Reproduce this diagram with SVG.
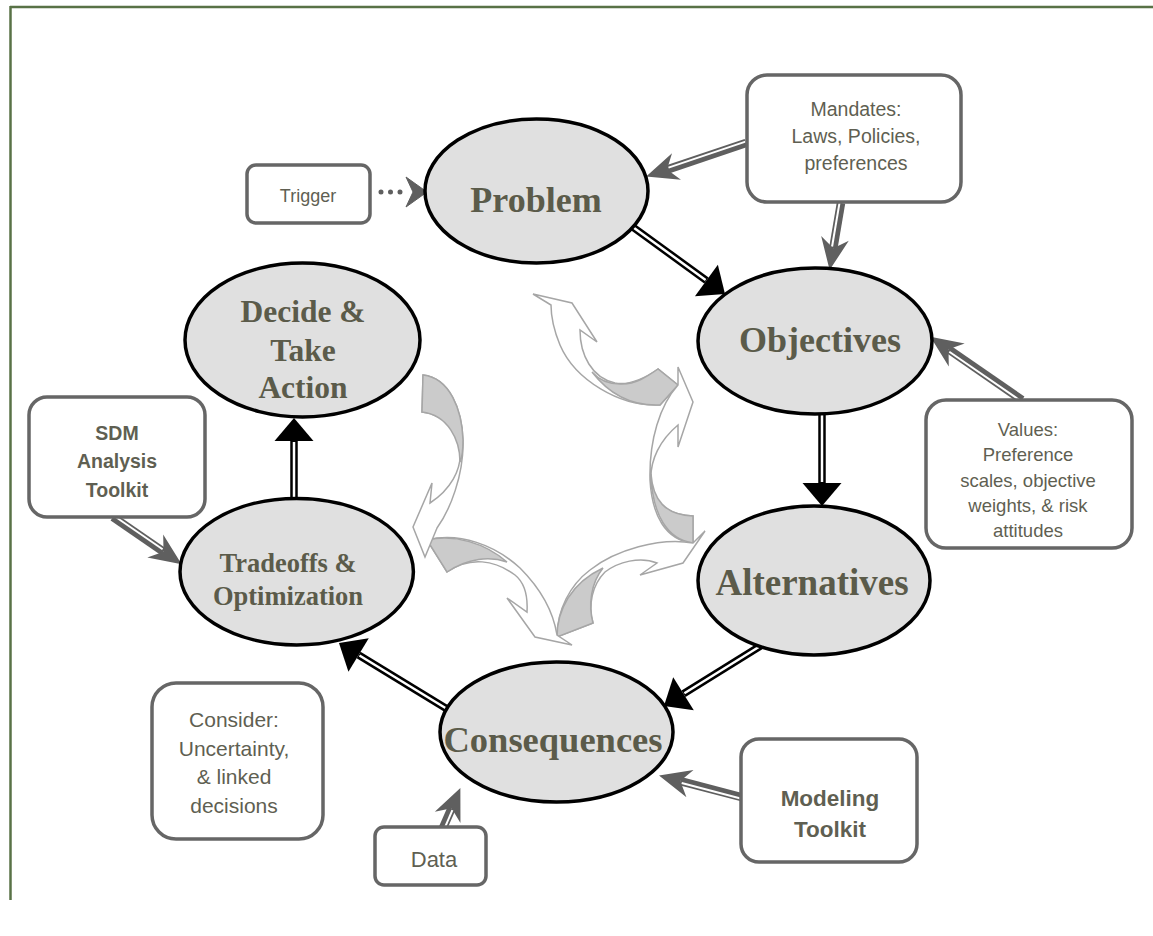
<svg xmlns="http://www.w3.org/2000/svg" width="1153" height="936" viewBox="0 0 1153 936">
<style>
.frame{stroke:#587246;stroke-width:2.5;fill:none}
.node ellipse{fill:#e0e0e0;stroke:#000;stroke-width:3.5}
.node text{font-family:"Liberation Serif","Times New Roman",serif;font-weight:bold;fill:#5b5b4a;text-anchor:middle}
.box rect{fill:#fff;stroke:#666;stroke-width:3.5}
.box text{font-family:"Liberation Sans",Arial,sans-serif;fill:#5f5f52;text-anchor:middle}
.box text.b{font-weight:bold}
.blk{stroke:#000;stroke-width:7.5;fill:none}
.wht{stroke:#fff;stroke-width:2.5;fill:none}
.gry{stroke:#5f5f5f;stroke-width:8.5;fill:none}
.gw{stroke:#fff;stroke-width:2;fill:none}
.cyc{stroke:#a6a6a6;stroke-width:1.5;fill:#fff;stroke-linejoin:miter}
.cyc-s{stroke:#a6a6a6;stroke-width:1.5;fill:#cbcbcb}
</style>
<defs>
<marker id="tri" markerUnits="userSpaceOnUse" orient="auto" refX="0" refY="0" markerWidth="30" markerHeight="44" viewBox="0 -22 26 44" overflow="visible">
<path d="M0,-19.5 L23,0 L0,19.5 Z" fill="#000"/>
</marker>
<marker id="stealth" markerUnits="userSpaceOnUse" orient="auto" refX="0" refY="0" markerWidth="36" markerHeight="32" viewBox="-12 -16 36 32" overflow="visible">
<path d="M22,0 L-10,-14 L0,0 L-10,14 Z" fill="#5f5f5f"/>
</marker>
</defs>

<g id="frame">
<line class="frame" x1="10" y1="7" x2="1153" y2="7"/>
<line class="frame" x1="10.5" y1="6" x2="10.5" y2="900"/>
</g>

<g id="cycle">
<path class="cyc" d="M678,385 L660,405 C620,407 575,380 560,345 C553,328 551,315 551,305 L533,294 L572,303 L597,342 L580,330 C580,355 592,378 615,383 C632,386 648,376 658,369 Z"/>
<path class="cyc-s" d="M592,372 C600,381 610,384 620,384 C635,385 648,376 658,369 L678,385 L660,405 C635,406 612,398 592,372 Z"/>
<path class="cyc" d="M678,385 L678,367 L693,402 L678,447 L678,425 C660,440 650,460 651,480 C652,500 665,515 693,516 L693,543 C665,540 652,515 650,480 C649,440 660,405 678,385 Z"/>
<path class="cyc-s" d="M651,474 C653,500 665,515 693,516 L693,543 C668,540 652,515 651,474 Z"/>
<path class="cyc" d="M693,543 L705,531 L683,563 L640,575 L657,563 C640,556 618,562 605,572 C592,585 588,605 593,623 L557,637 C557,610 570,585 590,570 C615,550 660,537 693,543 Z"/>
<path class="cyc-s" d="M603,568 C591,583 588,605 593,623 L557,637 C557,610 571,583 603,568 Z"/>
<path class="cyc" d="M427,540 C460,532 495,545 520,568 C540,588 553,610 557,635 L572,645 L535,637 L507,598 L527,612 C528,595 525,583 515,575 C495,560 470,556 447,572 Z"/>
<path class="cyc-s" d="M427,540 C455,534 485,543 507,562 C490,556 468,558 447,572 Z"/>
<path class="cyc" d="M423,375 C450,378 462,410 463,440 C464,475 450,510 437,528 L425,557 L413,527 L432,483 L430,503 C450,490 462,470 460,450 C457,430 445,415 422,412 Z"/>
<path class="cyc-s" d="M423,375 C450,378 462,410 463,440 C463,450 462,458 460,462 C460,440 448,415 422,412 Z"/>
</g>

<g id="connectors">
<line class="blk" x1="630" y1="225" x2="706.4" y2="280.5" marker-end="url(#tri)"/>
<line class="wht" x1="630" y1="225" x2="705.6" y2="279.9"/>
<line class="blk" x1="822" y1="410" x2="822" y2="483" marker-end="url(#tri)"/>
<line class="wht" x1="822" y1="410" x2="822" y2="482"/>
<line class="blk" x1="762" y1="645" x2="683.5" y2="693.8" marker-end="url(#tri)"/>
<line class="wht" x1="762" y1="645" x2="684.4" y2="693.3"/>
<line class="blk" x1="452" y1="712" x2="358.6" y2="655" marker-end="url(#tri)"/>
<line class="wht" x1="452" y1="712" x2="359.5" y2="655.5"/>
<line class="blk" x1="294" y1="502" x2="294" y2="441" marker-end="url(#tri)"/>
<line class="wht" x1="294" y1="502" x2="294" y2="442"/>

<line class="gry" x1="746" y1="143" x2="667" y2="169.6" marker-end="url(#stealth)"/>
<line class="gw" x1="745.5" y1="141.6" x2="668.5" y2="167.6"/>
<line class="gry" x1="841" y1="203" x2="833.3" y2="248.3" marker-end="url(#stealth)"/>
<line class="gw" x1="839.5" y1="202.8" x2="832.1" y2="246.5"/>
<line class="gry" x1="1022" y1="400" x2="948.5" y2="349.3" marker-end="url(#stealth)"/>
<line class="gw" x1="1021.2" y1="401.2" x2="949.3" y2="351.7"/>
<line class="gry" x1="113" y1="517" x2="163.5" y2="551.7" marker-end="url(#stealth)"/>
<line class="gw" x1="113.9" y1="515.8" x2="162.6" y2="549.3"/>
<line class="gry" x1="443" y1="828" x2="451.6" y2="808.2" marker-end="url(#stealth)"/>
<line class="gw" x1="444.4" y1="828.6" x2="452.4" y2="810.2"/>
<line class="gry" x1="741" y1="797" x2="680.3" y2="781.1" marker-end="url(#stealth)"/>
<line class="gw" x1="740.6" y1="798.5" x2="681.7" y2="783"/>

<line x1="381" y1="192" x2="401" y2="192" stroke="#5f5f5f" stroke-width="5" stroke-linecap="round" stroke-dasharray="0 9.5"/>
<path d="M427,192 L406,177 L413,192 L406,207 Z" fill="#5f5f5f" stroke="#5f5f5f" stroke-width="1" stroke-linejoin="miter"/>
</g>

<g id="problem" class="node">
<ellipse cx="536.5" cy="191" rx="111.5" ry="72"/>
<text x="536" y="212" font-size="36">Problem</text>
</g>
<g id="objectives" class="node">
<ellipse cx="815" cy="341" rx="117" ry="73"/>
<text x="820" y="352" font-size="36">Objectives</text>
</g>
<g id="alternatives" class="node">
<ellipse cx="814" cy="580.5" rx="116" ry="74.5"/>
<text x="812" y="595" font-size="37">Alternatives</text>
</g>
<g id="consequences" class="node">
<ellipse cx="556.5" cy="732" rx="116.5" ry="70"/>
<text x="553" y="752" font-size="36.5">Consequences</text>
</g>
<g id="tradeoffs" class="node">
<ellipse cx="296.7" cy="571.7" rx="116.7" ry="73.3"/>
<text x="288" y="572" font-size="26.5">Tradeoffs &amp;</text>
<text x="288" y="605" font-size="26.5">Optimization</text>
</g>
<g id="decide" class="node">
<ellipse cx="302.5" cy="340" rx="117.5" ry="77"/>
<text x="303" y="322" font-size="31.5">Decide &amp;</text>
<text x="303" y="361" font-size="31.5">Take</text>
<text x="303" y="398" font-size="31.5">Action</text>
</g>

<g id="trigger" class="box">
<rect x="247" y="165" width="123" height="58" rx="9"/>
<text x="308" y="202" font-size="18">Trigger</text>
</g>
<g id="mandates" class="box">
<rect x="747" y="75" width="214" height="127" rx="20"/>
<text x="856" y="116" font-size="19.5">Mandates:</text>
<text x="856" y="143" font-size="19.5">Laws, Policies,</text>
<text x="856" y="170" font-size="19.5">preferences</text>
</g>
<g id="values" class="box">
<rect x="926" y="400" width="206" height="148" rx="20"/>
<text x="1028" y="436" font-size="18.5">Values:</text>
<text x="1028" y="461" font-size="18.5">Preference</text>
<text x="1028" y="487" font-size="18.5">scales, objective</text>
<text x="1028" y="512" font-size="18.5">weights, &amp; risk</text>
<text x="1028" y="537" font-size="18.5">attitudes</text>
</g>
<g id="sdm" class="box">
<rect x="29" y="397" width="176" height="120" rx="18"/>
<text class="b" x="117" y="440" font-size="19.5">SDM</text>
<text class="b" x="117" y="468" font-size="19.5">Analysis</text>
<text class="b" x="117" y="497" font-size="19.5">Toolkit</text>
</g>
<g id="consider" class="box">
<rect x="152" y="683" width="171" height="156" rx="24"/>
<text x="234" y="727" font-size="21">Consider:</text>
<text x="234" y="756" font-size="21">Uncertainty,</text>
<text x="234" y="784" font-size="21">&amp; linked</text>
<text x="234" y="813" font-size="21">decisions</text>
</g>
<g id="data" class="box">
<rect x="375" y="827" width="111" height="58" rx="9"/>
<text x="434" y="867" font-size="22">Data</text>
</g>
<g id="modeling" class="box">
<rect x="741" y="739" width="176" height="123" rx="18"/>
<text class="b" x="830" y="806" font-size="22.5">Modeling</text>
<text class="b" x="830" y="837" font-size="22.5">Toolkit</text>
</g>
</svg>
